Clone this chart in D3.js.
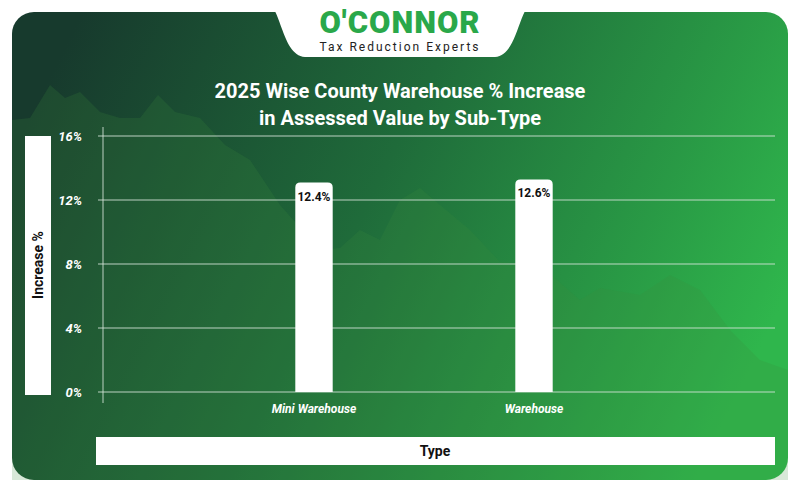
<!DOCTYPE html>
<html><head><meta charset="utf-8">
<script src="https://cdn.jsdelivr.net/npm/d3@7"></script>
<style>body{margin:0;background:#fff}svg{display:block;font-family:Roboto,"Open Sans",sans-serif}</style>
</head><body>
<script>
var categories = ["Mini Warehouse", "Warehouse"];
var values = [12.4, 12.6];
var yTicks = [0, 4, 8, 12, 16];

var svg = d3.select("body").append("svg").attr("width", 800).attr("height", 492);
var defs = svg.append("defs");
var g1 = defs.append("linearGradient").attr("id", "bg").attr("x1", "0").attr("y1", "0.3").attr("x2", "1").attr("y2", "0.6");
g1.append("stop").attr("offset", "0").attr("stop-color", "#173a2d");
g1.append("stop").attr("offset", "0.45").attr("stop-color", "#1f6b3a");
g1.append("stop").attr("offset", "1").attr("stop-color", "#2fb64c");

svg.append("rect").attr("x", 12).attr("y", 12).attr("width", 776).attr("height", 468)
   .attr("rx", 22).style("fill", "url(#bg)");

// faint decorative skyline behind the chart
var deco = [[12,120],[30,118],[50,85],[65,98],[80,92],[100,112],[120,118],[140,118],[158,95],[175,112],[200,118],[225,145],[250,160],[280,205],[320,250],[340,248],[360,230],[380,240],[400,200],[420,188],[440,205],[470,230],[500,262],[540,265],[580,300],[600,288],[640,295],[670,275],[700,290],[730,330],[760,360],[788,370],[788,480],[12,480]];
svg.append("path").attr("d", d3.line()(deco)).style("fill", "#3a8a3e").style("opacity", 0.2);

// logo tab
svg.append("path")
   .attr("d", "M262,0 C282,0 280,55 305,57 L495,57 C520,55 518,0 538,0 Z")
   .style("fill", "#fff");
svg.append("text").attr("x", 400).attr("y", 33).attr("text-anchor", "middle")
   .style("font-size", "31px").style("font-weight", 900).style("fill", "#2aa84a")
   .style("letter-spacing", "1px").text("O'CONNOR");
svg.append("text").attr("x", 400).attr("y", 51).attr("text-anchor", "middle")
   .style("font-size", "12px").style("letter-spacing", "2px").style("fill", "#222")
   .text("Tax Reduction Experts");

// title
var title = svg.append("text").attr("text-anchor", "middle").style("fill", "#fff")
   .style("font-size", "20px").style("font-weight", 700);
title.append("tspan").attr("x", 400).attr("y", 98).text("2025 Wise County Warehouse % Increase");
title.append("tspan").attr("x", 400).attr("y", 125).text("in Assessed Value by Sub-Type");

var y = d3.scaleLinear().domain([0, 16]).range([392, 136]);
var x = d3.scaleBand().domain(categories).range([204, 644]).paddingInner(0.83).paddingOuter(0.415);

// grid
svg.append("g").selectAll("line").data(yTicks).join("line")
   .attr("x1", 98).attr("x2", 775).attr("y1", d => y(d)).attr("y2", d => y(d))
   .style("stroke", "#d8e6dc").style("stroke-width", 1).style("opacity", 0.85);
svg.append("line").attr("x1", 103).attr("x2", 103).attr("y1", 127).attr("y2", 403)
   .style("stroke", "#d8e6dc").style("opacity", 0.85);

svg.append("g").selectAll("text").data(yTicks).join("text")
   .attr("x", 82).attr("y", d => y(d) + 5).attr("text-anchor", "end")
   .style("fill", "#fff").style("font-size", "13px").style("font-weight", 700).style("font-style", "italic")
   .text(d => d + "%");

// bars with rounded top; the label sits inside a small cap above the value
var cap = 11;
svg.append("g").selectAll("path").data(values).join("path")
   .attr("d", function(d, i) {
     var x0 = x(categories[i]), w = x.bandwidth(), top = y(d) - cap, b = y(0), r = 5;
     return "M" + x0 + "," + b + "V" + (top + r) + "Q" + x0 + "," + top + " " + (x0 + r) + "," + top +
            "H" + (x0 + w - r) + "Q" + (x0 + w) + "," + top + " " + (x0 + w) + "," + (top + r) + "V" + b + "Z";
   })
   .style("fill", "#fff");
svg.append("g").selectAll("text").data(values).join("text")
   .attr("x", (d, i) => x(categories[i]) + x.bandwidth() / 2).attr("y", d => y(d) - cap + 18)
   .attr("text-anchor", "middle").style("font-size", "12px").style("font-weight", 700).style("fill", "#111")
   .text(d => d.toFixed(1) + "%");

svg.append("g").selectAll("text").data(categories).join("text")
   .attr("x", d => x(d) + x.bandwidth() / 2).attr("y", 413).attr("text-anchor", "middle")
   .style("fill", "#fff").style("font-size", "12px").style("font-weight", 700).style("font-style", "italic")
   .text(d => d);

// axis title boxes
svg.append("rect").attr("x", 25).attr("y", 136).attr("width", 26).attr("height", 259).style("fill", "#fff");
svg.append("text").attr("transform", "translate(43,265) rotate(-90)").attr("text-anchor", "middle")
   .style("font-size", "14px").style("font-weight", 700).style("fill", "#111").text("Increase %");
svg.append("rect").attr("x", 96).attr("y", 437).attr("width", 679).attr("height", 28).style("fill", "#fff");
svg.append("text").attr("x", 435).attr("y", 456).attr("text-anchor", "middle")
   .style("font-size", "14px").style("font-weight", 700).style("fill", "#111").text("Type");
</script>
</body></html>
